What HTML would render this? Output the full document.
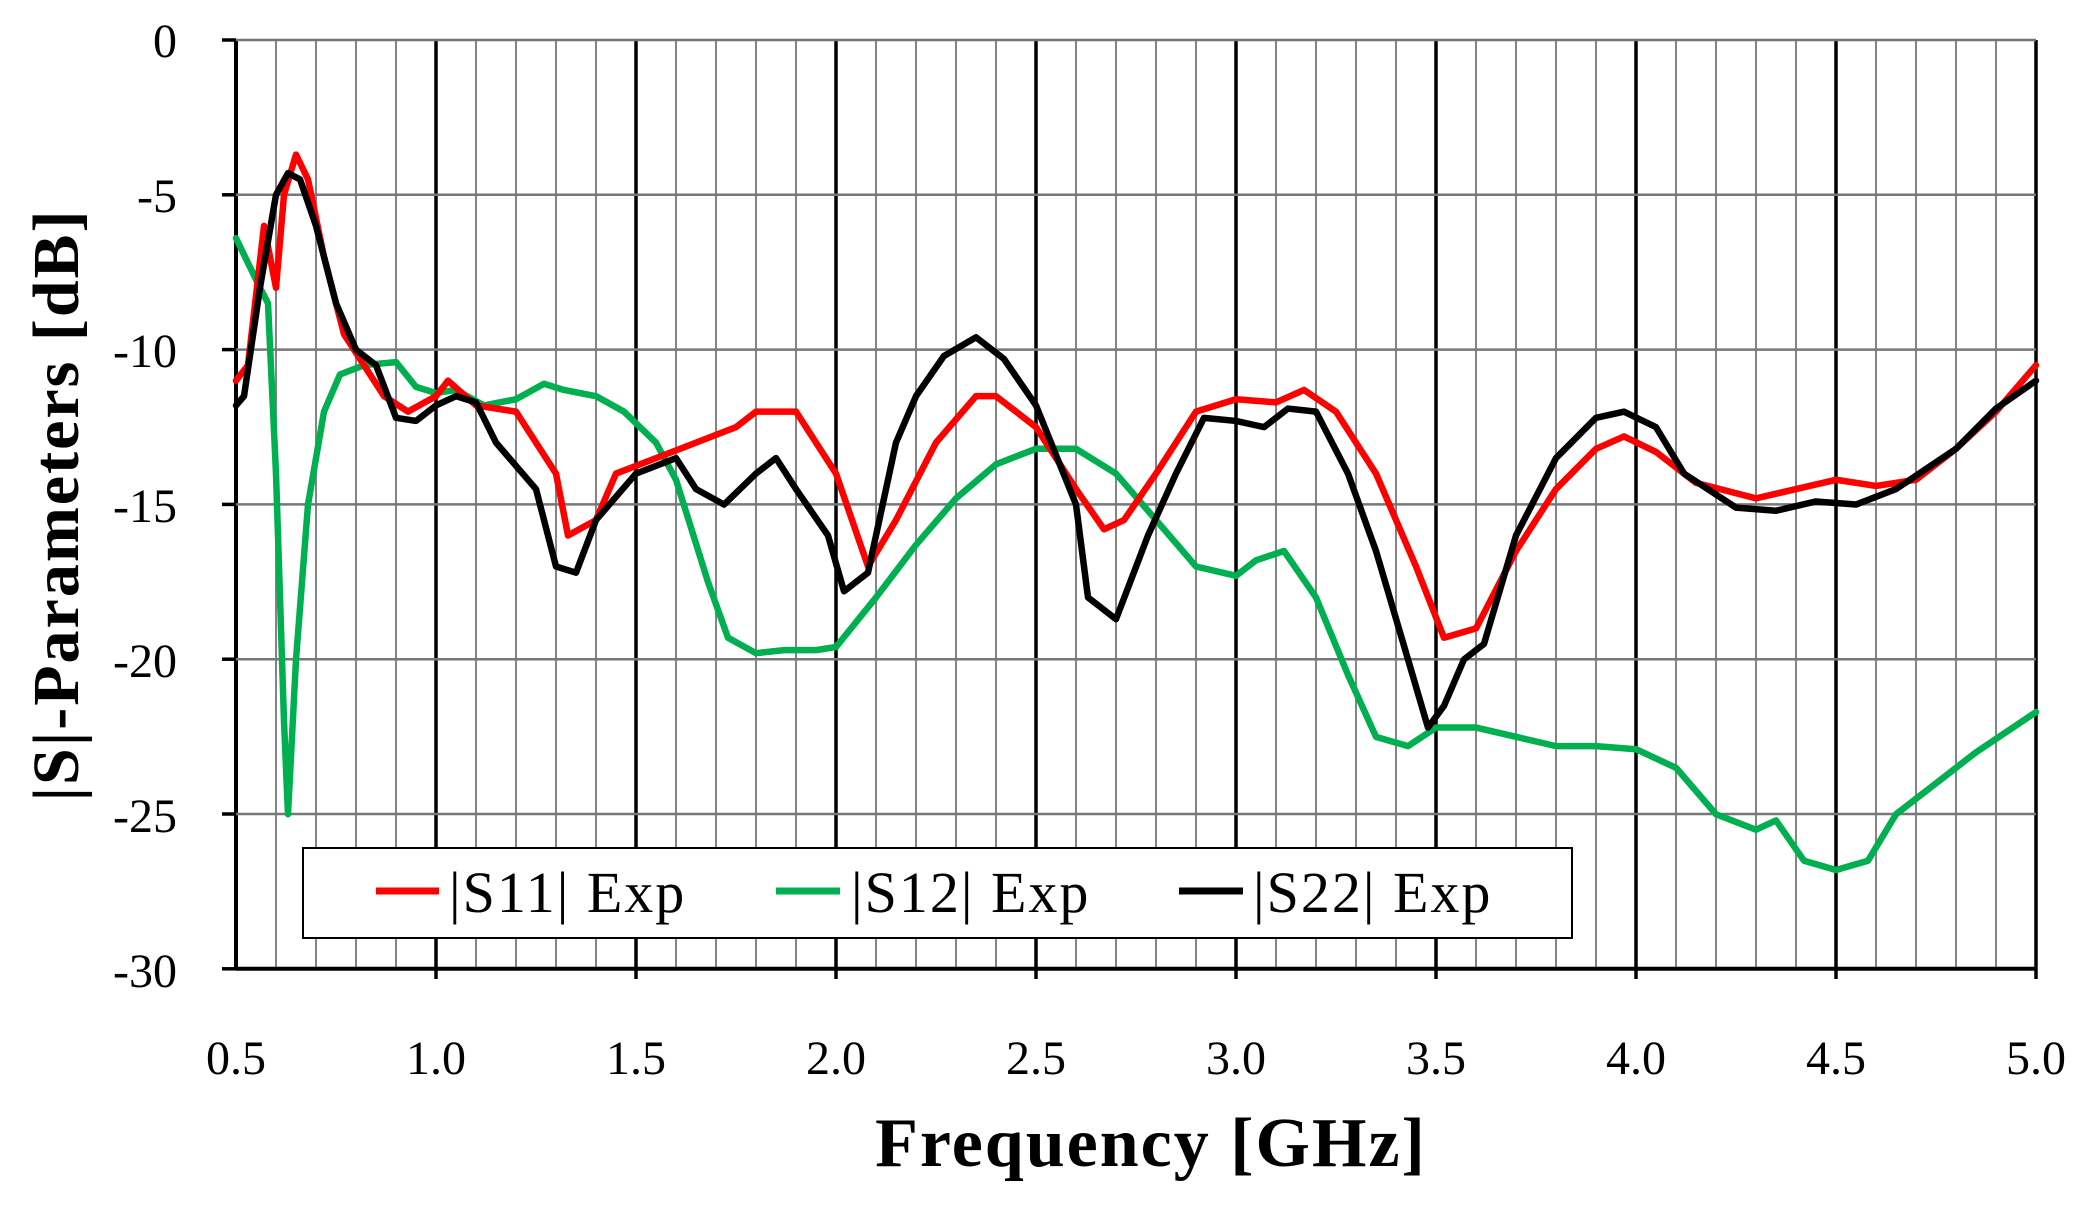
<!DOCTYPE html>
<html><head><meta charset="utf-8"><style>
html,body{margin:0;padding:0;background:#fff;}
svg{display:block;font-family:"Liberation Serif",serif;}
</style></head><body>
<svg width="2084" height="1206" viewBox="0 0 2084 1206" xmlns="http://www.w3.org/2000/svg">
<rect width="2084" height="1206" fill="#fff"/>
<g id="grid"></g>
<g transform="translate(36,40) scale(400,-30.97)" fill="none" stroke-linejoin="round" stroke-linecap="round">
<polyline vector-effect="non-scaling-stroke" stroke="#00b050" stroke-width="6.5" points="0.5,-6.4 0.53,-7.2 0.56,-8 0.58,-8.5 0.6,-14 0.62,-22 0.63,-25 0.65,-20 0.68,-15 0.72,-12 0.76,-10.8 0.82,-10.5 0.9,-10.4 0.95,-11.2 1.0,-11.4 1.05,-11.3 1.12,-11.8 1.2,-11.6 1.27,-11.1 1.32,-11.3 1.4,-11.5 1.47,-12 1.55,-13 1.6,-14.2 1.68,-17.5 1.73,-19.3 1.8,-19.8 1.87,-19.7 1.95,-19.7 2.0,-19.6 2.1,-18 2.2,-16.3 2.3,-14.8 2.4,-13.7 2.5,-13.2 2.6,-13.2 2.7,-14 2.8,-15.5 2.9,-17 3.0,-17.3 3.05,-16.8 3.12,-16.5 3.2,-18 3.28,-20.5 3.35,-22.5 3.43,-22.8 3.5,-22.2 3.6,-22.2 3.7,-22.5 3.8,-22.8 3.9,-22.8 4.0,-22.9 4.1,-23.5 4.2,-25 4.3,-25.5 4.35,-25.2 4.42,-26.5 4.5,-26.8 4.58,-26.5 4.65,-25 4.75,-24 4.85,-23 5.0,-21.7"/>
<polyline vector-effect="non-scaling-stroke" stroke="#ff0000" stroke-width="6.5" points="0.5,-11 0.53,-10.5 0.57,-6 0.6,-8 0.62,-5 0.65,-3.7 0.68,-4.5 0.72,-7 0.77,-9.5 0.82,-10.5 0.87,-11.5 0.93,-12 1.0,-11.5 1.03,-11 1.1,-11.8 1.2,-12 1.3,-14 1.33,-16 1.4,-15.5 1.45,-14 1.55,-13.5 1.65,-13 1.75,-12.5 1.8,-12 1.9,-12 2.0,-14 2.08,-17 2.15,-15.5 2.25,-13 2.35,-11.5 2.4,-11.5 2.5,-12.5 2.6,-14.5 2.67,-15.8 2.72,-15.5 2.8,-14 2.9,-12 3.0,-11.6 3.1,-11.7 3.17,-11.3 3.25,-12 3.35,-14 3.45,-17 3.52,-19.3 3.6,-19 3.7,-16.5 3.8,-14.5 3.9,-13.2 3.97,-12.8 4.05,-13.3 4.15,-14.3 4.3,-14.8 4.4,-14.5 4.5,-14.2 4.6,-14.4 4.7,-14.2 4.8,-13.2 4.9,-12 5.0,-10.5"/>
<polyline vector-effect="non-scaling-stroke" stroke="#000" stroke-width="6.5" points="0.5,-11.8 0.52,-11.5 0.56,-8 0.6,-5 0.63,-4.3 0.66,-4.5 0.7,-6 0.75,-8.5 0.8,-10 0.85,-10.5 0.9,-12.2 0.95,-12.3 1.0,-11.8 1.05,-11.5 1.1,-11.7 1.15,-13 1.25,-14.5 1.3,-17 1.35,-17.2 1.4,-15.5 1.5,-14 1.6,-13.5 1.65,-14.5 1.72,-15 1.8,-14 1.85,-13.5 1.9,-14.5 1.98,-16 2.02,-17.8 2.08,-17.2 2.15,-13 2.2,-11.5 2.27,-10.2 2.35,-9.6 2.42,-10.3 2.5,-11.8 2.6,-15 2.63,-18 2.7,-18.7 2.78,-16 2.85,-14 2.92,-12.2 3.0,-12.3 3.07,-12.5 3.13,-11.9 3.2,-12 3.28,-14 3.35,-16.5 3.43,-20 3.48,-22.2 3.52,-21.5 3.57,-20 3.62,-19.5 3.7,-16 3.8,-13.5 3.9,-12.2 3.97,-12 4.05,-12.5 4.12,-14 4.25,-15.1 4.35,-15.2 4.45,-14.9 4.55,-15 4.65,-14.5 4.8,-13.2 4.9,-11.9 5.0,-11"/>
</g>
<rect x="303" y="848" width="1269" height="90" fill="#fff" stroke="#000" stroke-width="2"/>
<line x1="376" y1="891" x2="439" y2="891" stroke="#ff0000" stroke-width="7"/>
<line x1="776" y1="891" x2="840" y2="891" stroke="#00b050" stroke-width="7"/>
<line x1="1179" y1="891" x2="1243" y2="891" stroke="#000" stroke-width="7"/>
<g font-size="58" fill="#000" letter-spacing="2">
<text x="449" y="912">|S11| Exp</text>
<text x="851" y="912">|S12| Exp</text>
<text x="1253" y="912">|S22| Exp</text>
</g>
<g font-size="48" fill="#000" text-anchor="end">
<text x="177" y="57">0</text>
<text x="177" y="212">-5</text>
<text x="177" y="367">-10</text>
<text x="177" y="522">-15</text>
<text x="177" y="677">-20</text>
<text x="177" y="832">-25</text>
<text x="177" y="987">-30</text>
</g>
<g font-size="48" fill="#000" text-anchor="middle">
<text x="236" y="1074">0.5</text>
<text x="436" y="1074">1.0</text>
<text x="636" y="1074">1.5</text>
<text x="836" y="1074">2.0</text>
<text x="1036" y="1074">2.5</text>
<text x="1236" y="1074">3.0</text>
<text x="1436" y="1074">3.5</text>
<text x="1636" y="1074">4.0</text>
<text x="1836" y="1074">4.5</text>
<text x="2036" y="1074">5.0</text>
</g>
<text x="1151" y="1166" font-size="70" font-weight="bold" text-anchor="middle" letter-spacing="2">Frequency [GHz]</text>
<text transform="translate(78,505) rotate(-90)" font-size="66" font-weight="bold" text-anchor="middle" letter-spacing="2">|S|-Parameters [dB]</text>
</svg>
<script>
(function(){
var g=document.getElementById('grid'),s='';
for(var i=0;i<=45;i++){var x=236+i*(1800/45);
 if(i%5==0){s+='<line x1="'+x+'" y1="40" x2="'+x+'" y2="'+(i==0?969:979)+'" stroke="#000" stroke-width="'+(i==0?4:3.5)+'"/>';}
 else s+='<line x1="'+x+'" y1="40" x2="'+x+'" y2="969" stroke="#777" stroke-width="1.8"/>';}
for(var j=0;j<=6;j++){var y=40+j*154.8;
 s+='<line x1="'+(j==6?236:222)+'" y1="'+y+'" x2="2036" y2="'+y+'" stroke="'+(j==6?'#000':'#777')+'" stroke-width="'+(j==6?4:2.5)+'"/>';
 s+='<line x1="222" y1="'+y+'" x2="236" y2="'+y+'" stroke="#000" stroke-width="3.5"/>';}
g.innerHTML=s;
})();
</script>
</body></html>
